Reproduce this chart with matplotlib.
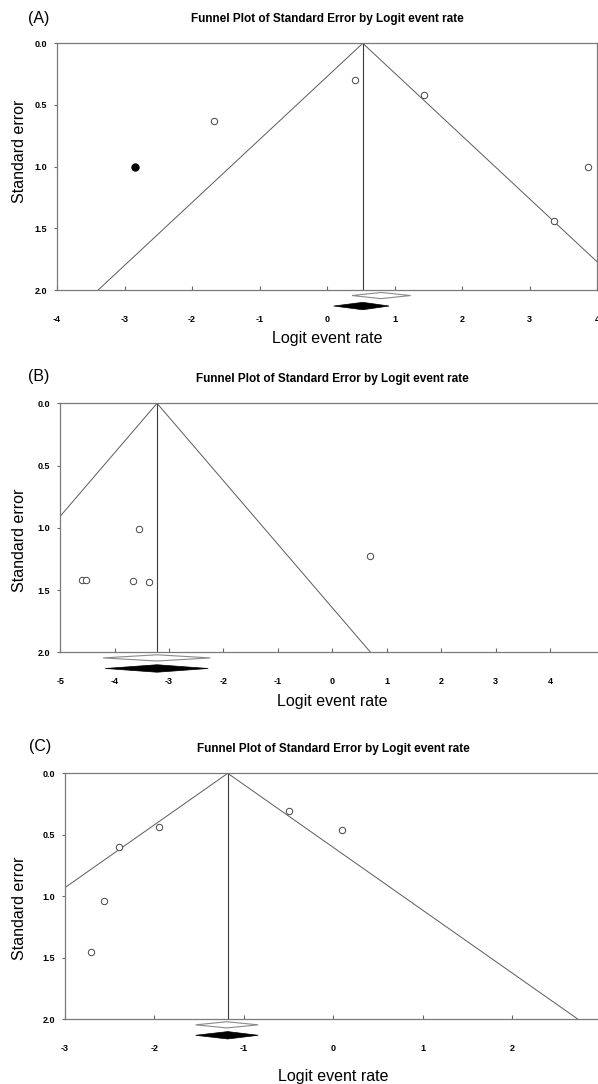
import numpy as np
import matplotlib
matplotlib.use("Agg")
import matplotlib.pyplot as plt

# (A)
a_logit = [0.41, -1.67, 1.43, 3.86, 3.37]
a_se = [0.30, 0.627, 0.42, 1.005, 1.44]
a_fill_logit = [-2.84]
a_fill_se = [1.005]
a_mean = 0.53
a_ci = [0.10, 0.92]
a_adj_mean = 0.80
a_adj_ci = [0.37, 1.24]

# (B)
b_logit = [-3.556, 0.689, -4.596, -4.519, -3.668, -3.373]
b_se = [1.012, 1.224, 1.419, 1.419, 1.430, 1.438]
b_mean = -3.22
b_ci = [-4.17, -2.28]
b_adj_mean = -3.22
b_adj_ci = [-4.21, -2.24]

# (C)
c_logit = [-0.50, 0.103, -1.953, -2.398, -2.565, -2.711]
c_se = [0.306, 0.458, 0.434, 0.599, 1.035, 1.455]
c_mean = -1.18
c_ci = [-1.54, -0.84]
c_adj_mean = -1.19
c_adj_ci = [-1.54, -0.84]

a_xticks = [-4, -3, -2, -1, 0, 1, 2, 3, 4]
b_xticks = [-5, -4, -3, -2, -1, 0, 1, 2, 3, 4]
c_xticks = [-3, -2, -1, 0, 1, 2, 3]
yticks = [0.0, 0.5, 1.0, 1.5, 2.0]

title = "Funnel Plot of Standard Error by Logit event rate"
narrow = ["Liberation Sans Narrow", "Liberation Sans", "DejaVu Sans"]
plt.rcParams["font.family"] = ["Liberation Sans", "DejaVu Sans"]

W, H = 598, 1084
fig = plt.figure(figsize=(W / 100, H / 100), dpi=100)


def diamond(ax, lo, mid, hi, y, h, **kw):
    ax.fill([lo, mid, hi, mid], [y, y - h, y, y + h], clip_on=False, **kw)


def panel(rect, xlim, xticks, x, se, mean, ci, adj_mean, adj_ci, ylab_y, xlab_y):
    l, t, r, b = rect
    ax = fig.add_axes([l / W, 1 - b / H, (r - l) / W, (b - t) / H])
    ax.set_xlim(xlim)
    ax.set_ylim(2.0, 0.0)
    # funnel: mean +/- 1.96 * SE
    ax.plot([mean - 1.96 * 2, mean, mean + 1.96 * 2], [2, 0, 2], color="#5a5a5a", lw=0.7)
    ax.plot([mean, mean], [0, 2], color="#3a3a3a", lw=0.8)
    ax.plot(x, se, "o", ms=4.6, mfc="white", mec="#444444", mew=0.7, clip_on=False)
    diamond(ax, adj_ci[0], adj_mean, adj_ci[1], 2.045, 0.025, facecolor="white",
            edgecolor="#8a8a8a", lw=0.8)
    diamond(ax, ci[0], mean, ci[1], 2.13, 0.03, facecolor="black", edgecolor="black", lw=0.5)
    ax.set_xticks(xticks)
    ax.set_xticklabels([str(v) for v in xticks])
    ax.set_yticks(yticks)
    ax.set_yticklabels(["%.1f" % v for v in yticks])
    for lab in ax.get_xticklabels() + ax.get_yticklabels():
        lab.set_family(narrow)
        lab.set_fontweight("bold")
        lab.set_fontsize(6.5)
    ax.tick_params(axis="x", direction="in", length=3, pad=18, color="#666666")
    ax.tick_params(axis="y", direction="out", length=2, pad=5, color="#666666")
    for s in ax.spines.values():
        s.set_color("#7a7a7a")
        s.set_linewidth(0.9)
    ax.set_xlabel("Logit event rate", fontsize=11.5, va="center")
    ax.xaxis.set_label_coords(0.5, -(xlab_y - b) / (b - t))
    ax.set_ylabel("Standard error", fontsize=11.5, va="center")
    ax.yaxis.set_label_coords(-(l - 20) / (r - l), ylab_y)
    ax.text(0.5, 1 + 24.5 / (b - t), title, transform=ax.transAxes, ha="center",
            va="center", fontsize=8.5, fontweight="bold", family=narrow)
    return ax


ax1 = panel((57, 43.3, 597, 290), (-4, 4), a_xticks, a_logit, a_se, a_mean, a_ci,
            a_adj_mean, a_adj_ci, 0.563, 339)
ax1.plot(a_fill_logit, a_fill_se, "o", ms=5, color="black")

ax2 = panel((60.1, 403.3, 604.7, 652.3), (-5, 5), b_xticks, b_logit, b_se, b_mean, b_ci,
            b_adj_mean, b_adj_ci, 0.451, 701.7)

ax3 = panel((65.1, 773.3, 601.3, 1019.3), (-3, 3), c_xticks, c_logit, c_se, c_mean, c_ci,
            c_adj_mean, c_adj_ci, 0.452, 1076)

for lab, px, py in [("(A)", 39, 18), ("(B)", 39, 377), ("(C)", 40, 746)]:
    fig.text(px / W, 1 - py / H, lab, ha="center", va="center", fontsize=11.5)

fig.savefig("out.png", dpi=100)
